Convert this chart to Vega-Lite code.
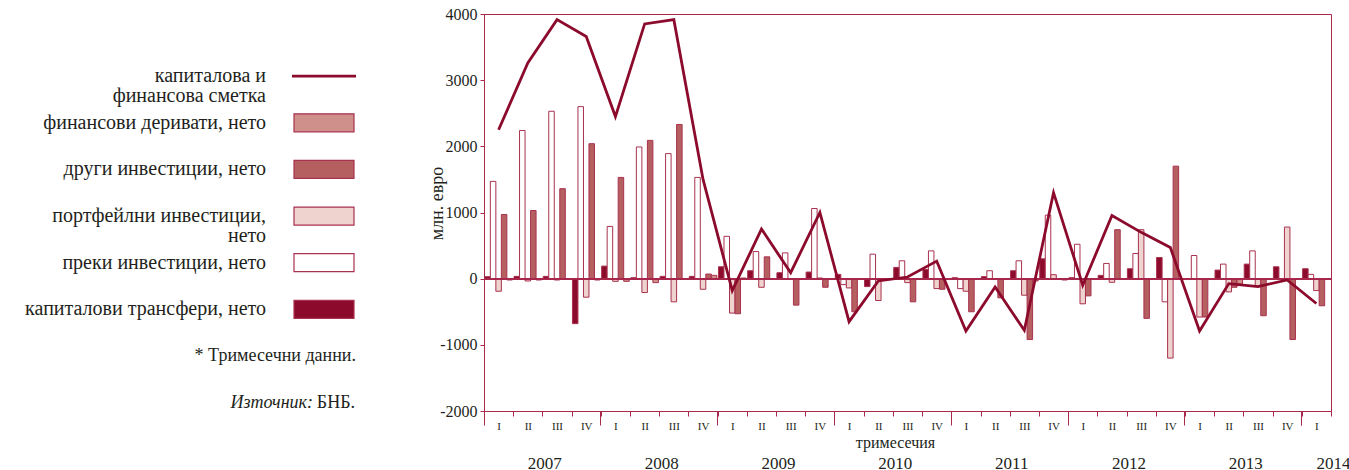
{
  "$schema": "https://vega.github.io/schema/vega-lite/v6.json",
  "background": "white",
  "padding": {"left": 5, "top": 5, "right": 5, "bottom": 0},
  "spacing": 60,
  "config": {
    "font": "Liberation Serif",
    "view": {"stroke": null},
    "axis": {"labelFont": "Liberation Serif", "titleFont": "Liberation Serif", "labelColor": "#231f20", "titleColor": "#231f20", "domainColor": "#a8294c", "tickColor": "#a8294c", "grid": false, "titleFontWeight": "normal"}
  },
  "datasets": {
    "quarters": [
      {"q": "2007-I", "ct": 30, "fdi": 1470, "port": -190, "oth": 970, "der": -20, "total": 2250},
      {"q": "2007-II", "ct": 35, "fdi": 2240, "port": -35, "oth": 1030, "der": -20, "total": 3260},
      {"q": "2007-III", "ct": 35, "fdi": 2530, "port": -20, "oth": 1360, "der": -10, "total": 3915},
      {"q": "2007-IV", "ct": -680, "fdi": 2600, "port": -280, "oth": 2040, "der": -20, "total": 3660},
      {"q": "2008-I", "ct": 190, "fdi": 790, "port": -40, "oth": 1530, "der": -40, "total": 2450},
      {"q": "2008-II", "ct": 15, "fdi": 1990, "port": -210, "oth": 2090, "der": -60, "total": 3850},
      {"q": "2008-III", "ct": 35, "fdi": 1890, "port": -350, "oth": 2330, "der": 0, "total": 3915},
      {"q": "2008-IV", "ct": 35, "fdi": 1530, "port": -160, "oth": 70, "der": 50, "total": 1500},
      {"q": "2009-I", "ct": 180, "fdi": 640, "port": -520, "oth": -530, "der": 10, "total": -180},
      {"q": "2009-II", "ct": 120, "fdi": 410, "port": -130, "oth": 330, "der": 0, "total": 750},
      {"q": "2009-III", "ct": 90, "fdi": 390, "port": -10, "oth": -400, "der": -10, "total": 90},
      {"q": "2009-IV", "ct": 100, "fdi": 1060, "port": 10, "oth": -130, "der": -10, "total": 1000},
      {"q": "2010-I", "ct": 65, "fdi": -90, "port": -140, "oth": -500, "der": -10, "total": -650},
      {"q": "2010-II", "ct": -120, "fdi": 370, "port": -330, "oth": -25, "der": 0, "total": -35},
      {"q": "2010-III", "ct": 170, "fdi": 270, "port": -60, "oth": -350, "der": 0, "total": 25},
      {"q": "2010-IV", "ct": 140, "fdi": 420, "port": -150, "oth": -160, "der": -10, "total": 265},
      {"q": "2011-I", "ct": 15, "fdi": -150, "port": -190, "oth": -500, "der": 0, "total": -790},
      {"q": "2011-II", "ct": 30, "fdi": 120, "port": -10, "oth": -290, "der": 0, "total": -125},
      {"q": "2011-III", "ct": 120, "fdi": 270, "port": -250, "oth": -920, "der": -35, "total": -780},
      {"q": "2011-IV", "ct": 300, "fdi": 960, "port": 60, "oth": 0, "der": -20, "total": 1300},
      {"q": "2012-I", "ct": 15, "fdi": 520, "port": -380, "oth": -260, "der": 0, "total": -100},
      {"q": "2012-II", "ct": 50, "fdi": 230, "port": -55, "oth": 740, "der": 0, "total": 955},
      {"q": "2012-III", "ct": 150, "fdi": 380, "port": 740, "oth": -600, "der": 0, "total": 700},
      {"q": "2012-IV", "ct": 320, "fdi": -350, "port": -1200, "oth": 1700, "der": -10, "total": 470},
      {"q": "2013-I", "ct": 0, "fdi": 350, "port": -580, "oth": -580, "der": 0, "total": -790},
      {"q": "2013-II", "ct": 130, "fdi": 220, "port": -200, "oth": -130, "der": -80, "total": -75},
      {"q": "2013-III", "ct": 220, "fdi": 420, "port": -110, "oth": -560, "der": 0, "total": -120},
      {"q": "2013-IV", "ct": 180, "fdi": 0, "port": 780, "oth": -920, "der": 0, "total": -20},
      {"q": "2014-I", "ct": 150, "fdi": 65, "port": -180, "oth": -410, "der": 0, "total": -375}
    ],
    "legend": [
      {"key": "k1", "kind": "entry", "label": "капиталова и\nфинансова сметка", "series": "total"},
      {"key": "k2", "kind": "entry", "label": "финансови деривати, нето", "series": "der"},
      {"key": "k3", "kind": "entry", "label": "други инвестиции, нето", "series": "oth"},
      {"key": "k4", "kind": "entry", "label": "портфейлни инвестиции,\nнето", "series": "port"},
      {"key": "k5", "kind": "entry", "label": "преки инвестиции, нето", "series": "fdi"},
      {"key": "k6", "kind": "entry", "label": "капиталови трансфери, нето", "series": "ct"},
      {"key": "k7", "kind": "note", "label": "* Тримесечни данни.", "series": "none"},
      {"key": "k8", "kind": "source", "label": "Източник:", "label2": "БНБ.", "series": "none"}
    ]
  },
  "hconcat": [
    {
      "width": 360,
      "height": 440,
      "view": {"stroke": "transparent"},
      "data": {"name": "legend"},
      "encoding": {
        "x": {"datum": "label", "type": "nominal", "scale": {"type": "point", "domain": ["label", "symbol"], "range": [260, 318], "padding": 0}, "axis": null},
        "y": {"field": "key", "type": "nominal", "scale": {"type": "point", "domain": ["k1", "k2", "k3", "k4", "k5", "k6", "k7", "k8"], "range": [62.2, 388.6], "padding": 0}, "axis": null}
      },
      "layer": [
        {
          "transform": [{"filter": "datum.kind == 'entry'"}],
          "mark": {"type": "text", "align": "right", "baseline": "middle", "fontSize": 20, "lineBreak": "\n", "lineHeight": 19.5, "color": "#231f20"},
          "encoding": {"text": {"field": "label"}}
        },
        {
          "transform": [{"filter": "datum.kind == 'note'"}],
          "mark": {"type": "text", "align": "right", "baseline": "middle", "fontSize": 18, "dx": 32, "color": "#231f20"},
          "encoding": {"x": {"datum": "symbol", "type": "nominal"}, "text": {"field": "label"}}
        },
        {
          "transform": [{"filter": "datum.kind == 'source'"}],
          "mark": {"type": "text", "align": "right", "baseline": "middle", "fontSize": 18, "fontStyle": "italic", "dx": -11, "color": "#231f20"},
          "encoding": {"x": {"datum": "symbol", "type": "nominal"}, "text": {"field": "label"}}
        },
        {
          "transform": [{"filter": "datum.kind == 'source'"}],
          "mark": {"type": "text", "align": "right", "baseline": "middle", "fontSize": 18, "dx": 31, "color": "#231f20"},
          "encoding": {"x": {"datum": "symbol", "type": "nominal"}, "text": {"field": "label2"}}
        },
        {
          "transform": [{"filter": "datum.kind == 'entry' && datum.series != 'total'"}],
          "mark": {"type": "tick", "orient": "horizontal", "size": 60, "thickness": 18, "filled": true, "stroke": "#a8324f", "strokeWidth": 1.2, "opacity": 1},
          "encoding": {
            "x": {"datum": "symbol", "type": "nominal"},
            "color": {"field": "series", "type": "nominal", "scale": {"domain": ["ct", "fdi", "port", "oth", "der"], "range": ["#8c0a2c", "#ffffff", "#eed3ce", "#b55f60", "#cf8f8b"]}, "legend": null}
          }
        },
        {
          "transform": [{"filter": "datum.series == 'total'"}],
          "mark": {"type": "tick", "orient": "horizontal", "size": 64, "thickness": 2.8, "color": "#8c0a2c", "opacity": 1},
          "encoding": {"x": {"datum": "symbol", "type": "nominal"}}
        }
      ]
    },
    {
      "width": 847,
      "height": 397,
      "view": {"stroke": "#a8294c", "strokeWidth": 1},
      "data": {"name": "quarters"},
      "layer": [
        {
          "transform": [{"fold": ["ct", "fdi", "port", "oth", "der"], "as": ["series", "value"]}],
          "mark": {"type": "bar", "stroke": "#a8324f", "strokeWidth": 1},
          "encoding": {
            "x": {"field": "q", "type": "nominal", "sort": null, "scale": {"paddingInner": 0, "paddingOuter": 0},
              "axis": {"title": "тримесечия", "orient": "bottom", "labelExpr": "split(datum.value,'-')[1]", "labelAngle": 0, "tickBand": "extent", "tickSize": 5, "labelFontSize": 11, "labelPadding": 4, "titleFontSize": 16, "titlePadding": 3, "titleX": 411, "labelOverlap": false}},
            "xOffset": {"field": "series", "type": "nominal", "scale": {"domain": ["ct", "fdi", "port", "oth", "der"], "paddingInner": 0, "paddingOuter": 0.15}},
            "y": {"field": "value", "type": "quantitative", "scale": {"domain": [-2000, 4000], "nice": false},
              "axis": {"values": [-2000, -1000, 0, 1000, 2000, 3000, 4000], "labelExpr": "'' + datum.value", "title": "млн. евро", "titleFontSize": 18, "labelFontSize": 16, "tickSize": 4, "labelPadding": 3, "titleX": -38, "titleY": 189}},
            "color": {"field": "series", "type": "nominal", "scale": {"domain": ["ct", "fdi", "port", "oth", "der"], "range": ["#8c0a2c", "#ffffff", "#eed3ce", "#b55f60", "#cf8f8b"]}, "legend": null}
          }
        },
        {
          "mark": {"type": "rule", "color": "#a8294c", "strokeWidth": 1},
          "encoding": {"y": {"datum": 0, "type": "quantitative"}}
        },
        {
          "mark": {"type": "bar", "opacity": 0},
          "encoding": {
            "x": {"field": "q", "type": "nominal", "sort": null,
              "axis": {"title": null, "orient": "bottom", "domain": false, "bandPosition": 1, "tickSize": 14, "labels": false,
                "values": ["2007-IV", "2008-IV", "2009-IV", "2010-IV", "2011-IV", "2012-IV", "2013-IV"]}},
            "y": {"datum": 0, "type": "quantitative"}
          }
        },
        {
          "mark": {"type": "bar", "opacity": 0},
          "encoding": {
            "x": {"field": "q", "type": "nominal", "sort": null,
              "axis": {"title": null, "orient": "bottom", "domain": false, "bandPosition": 0, "tickSize": 14,
                "values": ["2007-I", "2014-I"],
                "labelExpr": "datum.value == '2014-I' ? '2014' : ''", "labelAlign": "left", "labelAngle": 0, "labelFontSize": 17, "labelPadding": 30, "labelBaseline": "top", "labelOverlap": false}},
            "y": {"datum": 0, "type": "quantitative"}
          }
        },
        {
          "mark": {"type": "line", "color": "#8c0a2c", "strokeWidth": 2.8},
          "encoding": {
            "x": {"field": "q", "type": "nominal", "sort": null,
              "axis": {"title": null, "orient": "bottom", "domain": false, "ticks": false, "bandPosition": 0.5,
                "values": ["2007-II", "2008-II", "2009-II", "2010-II", "2011-II", "2012-II", "2013-II"],
                "labelExpr": "split(datum.value,'-')[0]", "labelAlign": "left", "labelAngle": 0, "labelFontSize": 17, "labelPadding": 44, "labelBaseline": "top", "labelOverlap": false}},
            "y": {"field": "total", "type": "quantitative"}
          }
        }
      ],
      "resolve": {"axis": {"x": "independent"}}
    }
  ]
}
